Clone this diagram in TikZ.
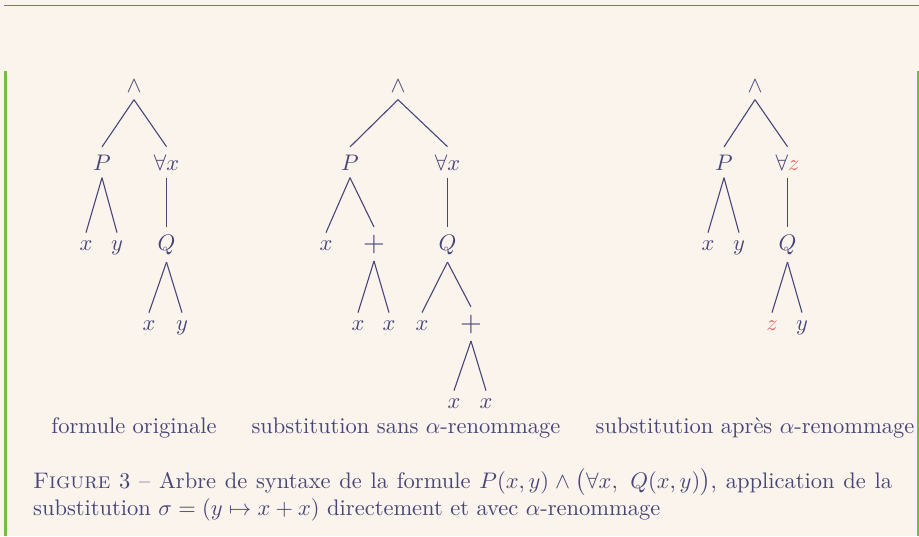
\documentclass[tikz,border=0pt]{standalone}
\usepackage{amsmath}
\usepackage{graphicx}
\definecolor{ink}{RGB}{72,70,120}
\definecolor{bg}{RGB}{250,244,237}
\definecolor{rulec}{RGB}{118,114,150}
\definecolor{greenbar}{RGB}{124,184,68}
\definecolor{redv}{RGB}{226,104,100}
\newcommand{\sz}[1]{\scalebox{2.25}{#1}}
\newcommand{\szplus}{\scalebox{2.8}{$+$}}
\tikzset{
  tn/.style={anchor=base, inner sep=7.5pt, text=ink, font=\fontsize{10}{12}\selectfont},
  lbl/.style={anchor=base, inner sep=0pt, text=ink, font=\fontsize{10}{12}\selectfont},
  edge/.style={draw=ink, line width=1.1pt},
}
\begin{document}
\begin{tikzpicture}[x=1pt,y=-1pt]
\fill[bg] (0,0) rectangle (919,536);
\useasboundingbox (0,0) rectangle (919,536);
\draw[rulec, line width=1.6pt] (4,5.5) -- (919,5.5);
\fill[greenbar] (4,71) rectangle (6.5,536);
\fill[greenbar] (917.2,71) rectangle (919,536);

% tree 1
\node[tn] (a1) at (134,92) {\sz{$\wedge$}};
\node[tn] (p1) at (102,170) {\sz{$P$}};
\node[tn] (f1) at (166.5,170) {\sz{$\forall x$}};
\node[tn] (x1) at (86,250) {\sz{$x$}};
\node[tn] (y1) at (117,250) {\sz{$y$}};
\node[tn] (q1) at (166.5,250) {\sz{$Q$}};
\node[tn] (x2) at (149,330) {\sz{$x$}};
\node[tn] (y2) at (182,330) {\sz{$y$}};
\draw[edge] (a1.south) -- (p1.north);
\draw[edge] (a1.south) -- (f1.north);
\draw[edge] (p1.south) -- (x1.north);
\draw[edge] (p1.south) -- (y1.north);
\draw[edge] (f1.south) -- (q1.north);
\draw[edge] (q1.south) -- (x2.north);
\draw[edge] (q1.south) -- (y2.north);

% tree 2
\node[tn] (a2) at (398,92) {\sz{$\wedge$}};
\node[tn] (p2) at (350,170) {\sz{$P$}};
\node[tn] (f2) at (447.5,170) {\sz{$\forall x$}};
\node[tn] (x3) at (326,250) {\sz{$x$}};
\node[tn] (pl1) at (374,251) {\szplus};
\node[tn] (q2) at (447.5,250) {\sz{$Q$}};
\node[tn] (x4) at (358,330) {\sz{$x$}};
\node[tn] (x5) at (389,330) {\sz{$x$}};
\node[tn] (x6) at (422,330) {\sz{$x$}};
\node[tn] (pl2) at (471,331) {\szplus};
\node[tn] (x7) at (454,408) {\sz{$x$}};
\node[tn] (x8) at (486,408) {\sz{$x$}};
\draw[edge] (a2.south) -- (p2.north);
\draw[edge] (a2.south) -- (f2.north);
\draw[edge] (p2.south) -- (x3.north);
\draw[edge] (p2.south) -- (pl1.north);
\draw[edge] (pl1.south) -- (x4.north);
\draw[edge] (pl1.south) -- (x5.north);
\draw[edge] (f2.south) -- (q2.north);
\draw[edge] (q2.south) -- (x6.north);
\draw[edge] (q2.south) -- (pl2.north);
\draw[edge] (pl2.south) -- (x7.north);
\draw[edge] (pl2.south) -- (x8.north);

% tree 3
\node[tn] (a3) at (755,92) {\sz{$\wedge$}};
\node[tn] (p3) at (724,170) {\sz{$P$}};
\node[tn] (f3) at (787.5,170) {\sz{$\forall\textcolor{redv}{z}$}};
\node[tn] (x9) at (708,250) {\sz{$x$}};
\node[tn] (y3) at (739,250) {\sz{$y$}};
\node[tn] (q3) at (787.5,250) {\sz{$Q$}};
\node[tn] (z1) at (772,330) {\sz{$\textcolor{redv}{z}$}};
\node[tn] (y4) at (802,330) {\sz{$y$}};
\draw[edge] (a3.south) -- (p3.north);
\draw[edge] (a3.south) -- (f3.north);
\draw[edge] (p3.south) -- (x9.north);
\draw[edge] (p3.south) -- (y3.north);
\draw[edge] (f3.south) -- (q3.north);
\draw[edge] (q3.south) -- (z1.north);
\draw[edge] (q3.south) -- (y4.north);

% labels
\node[lbl] (l1) at (134,433) {\sz{formule originale}};
\node[lbl] (l2) at (406,433) {\sz{substitution sans $\alpha$-renommage}};
\node[lbl] (l3) at (755,433) {\sz{substitution après $\alpha$-renommage}};

% caption
\node[anchor=base west, inner sep=0pt, text=ink, font=\fontsize{10}{10.67}\selectfont] (cap) at (33,488)
  {\sz{\parbox[t]{381.8pt}{\fontsize{10}{10.67}\selectfont \textsc{Figure} 3 -- Arbre de syntaxe de la formule $P(x,y) \wedge \bigl(\forall x,\ Q(x,y)\bigr)$, application de la\linebreak substitution $\sigma = (y \mapsto x + x)$ directement et avec $\alpha$-renommage}}};
\end{tikzpicture}
\end{document}
